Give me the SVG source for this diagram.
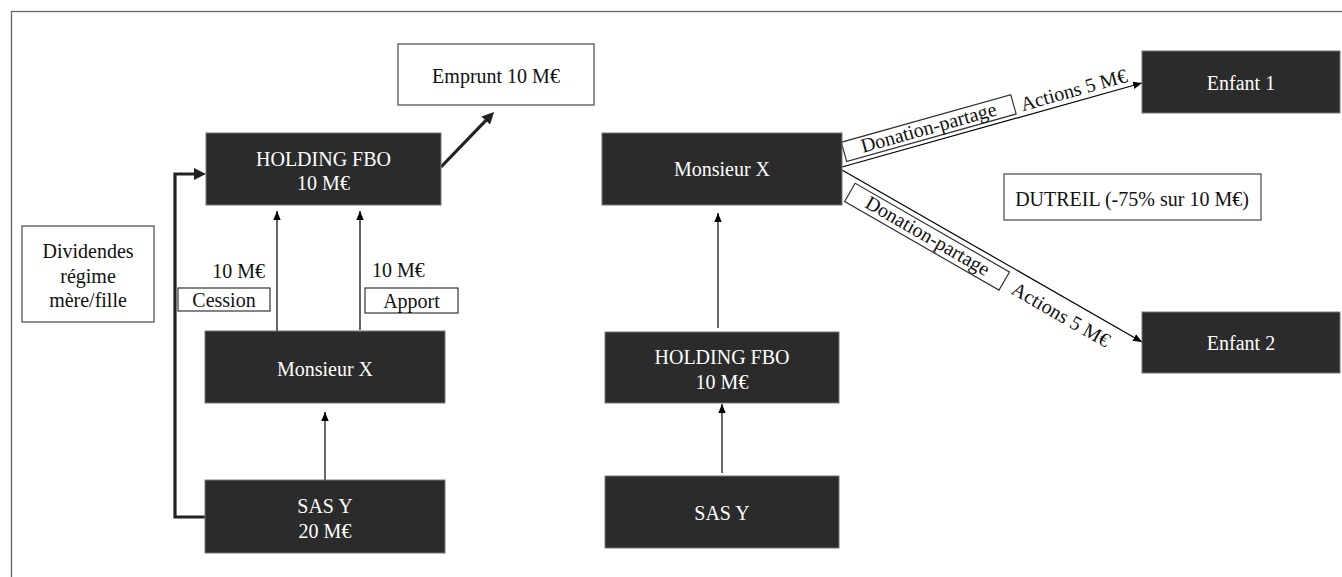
<svg xmlns="http://www.w3.org/2000/svg" width="1342" height="577" viewBox="0 0 1342 577">
<style>
text{font-family:"Liberation Serif","DejaVu Serif",serif;font-size:20px}
.dark rect{fill:#2b2b2b;stroke:#777;stroke-width:1}
.dark text{fill:#fff;text-anchor:middle}
.light rect{fill:#fff;stroke:#555;stroke-width:1.3}
.light text{fill:#111;text-anchor:middle}
.lbl{fill:#111}
.thin{stroke:#000;stroke-width:1.2;fill:none;marker-end:url(#ah)}
.thick{stroke:#222;stroke-width:3.2;fill:none;marker-end:url(#ahb)}
.lblbox{fill:#fff;stroke:#333;stroke-width:1.2}
</style>
<defs>
<marker id="ah" markerUnits="userSpaceOnUse" markerWidth="9" markerHeight="8" viewBox="0 0 9 8" refX="9" refY="4" orient="auto"><path d="M0,0.3 L9,4 L0,7.7 z" fill="#000"/></marker>
<marker id="ahb" markerUnits="userSpaceOnUse" markerWidth="12" markerHeight="12" viewBox="0 0 12 12" refX="2" refY="6" orient="auto"><path d="M0,0 L12,6 L0,12 z" fill="#222"/></marker>
</defs>
<rect width="1342" height="577" fill="#fff"/>
<rect x="11.5" y="11.5" width="1400" height="700" fill="none" stroke="#666" stroke-width="1.3"/>

<g id="connectors">
<path class="thick" d="M205,517 H175 V174 H196"/>
<path class="thick" d="M441,167 L487.1,119.2"/>
<path class="thin" d="M277,331 V211"/>
<path class="thin" d="M360,330 V211"/>
<path class="thin" d="M325,480 V412"/>
<path class="thin" d="M718,328 V213"/>
<path class="thin" d="M722,473 V404"/>
<path class="thin" d="M842,167 L1142,83"/>
<path class="thin" d="M842,170 L1142,342"/>
</g>

<g id="label-cession-amount"><text class="lbl" x="265" y="278" text-anchor="end">10 M€</text></g>
<g id="label-cession"><rect class="lblbox" x="178" y="288" width="92" height="23"/><text class="lbl" x="224" y="307" text-anchor="middle">Cession</text></g>
<g id="label-apport-amount"><text class="lbl" x="372" y="277">10 M€</text></g>
<g id="label-apport"><rect class="lblbox" x="365" y="288" width="93" height="25"/><text class="lbl" x="411.5" y="308" text-anchor="middle">Apport</text></g>

<g id="label-donation-1" transform="translate(842,167) rotate(-15.67)">
<rect class="lblbox" x="6" y="-24" width="176" height="20"/>
<text class="lbl" x="94" y="-8" text-anchor="middle">Donation-partage</text>
<text class="lbl" x="189" y="-5">Actions 5 M€</text>
</g>
<g id="label-donation-2" transform="translate(842,170) rotate(29.87)">
<rect class="lblbox" x="18" y="5" width="178" height="21"/>
<text class="lbl" x="107" y="21" text-anchor="middle">Donation-partage</text>
<text class="lbl" x="207" y="23">Actions 5 M€</text>
</g>

<g id="emprunt" class="light"><rect x="398" y="44" width="196" height="61"/><text x="496" y="83">Emprunt 10 M€</text></g>
<g id="dividendes" class="light"><rect x="22" y="226" width="132" height="96"/><text x="88" y="258">Dividendes</text><text x="88" y="283">régime</text><text x="88" y="307">mère/fille</text></g>
<g id="dutreil" class="light"><rect x="1004" y="174" width="257" height="46"/><text x="1132" y="206">DUTREIL (-75% sur 10 M€)</text></g>

<g id="holding-left" class="dark"><rect x="206" y="133" width="235" height="72"/><text x="323.5" y="166">HOLDING FBO</text><text x="323.5" y="190">10 M€</text></g>
<g id="monsieur-left" class="dark"><rect x="205" y="331" width="240" height="72"/><text x="325" y="376">Monsieur X</text></g>
<g id="sas-left" class="dark"><rect x="205" y="480" width="240" height="73"/><text x="325" y="513">SAS Y</text><text x="325" y="538">20 M€</text></g>

<g id="monsieur-right" class="dark"><rect x="602" y="133" width="240" height="72"/><text x="722" y="176">Monsieur X</text></g>
<g id="holding-right" class="dark"><rect x="605" y="332" width="234" height="71"/><text x="722" y="364">HOLDING FBO</text><text x="722" y="389">10 M€</text></g>
<g id="sas-right" class="dark"><rect x="605" y="476" width="234" height="72"/><text x="722" y="520">SAS Y</text></g>

<g id="enfant1" class="dark"><rect x="1142" y="51" width="198" height="62"/><text x="1241" y="90">Enfant 1</text></g>
<g id="enfant2" class="dark"><rect x="1142" y="312" width="198" height="61"/><text x="1241" y="350">Enfant 2</text></g>
</svg>
